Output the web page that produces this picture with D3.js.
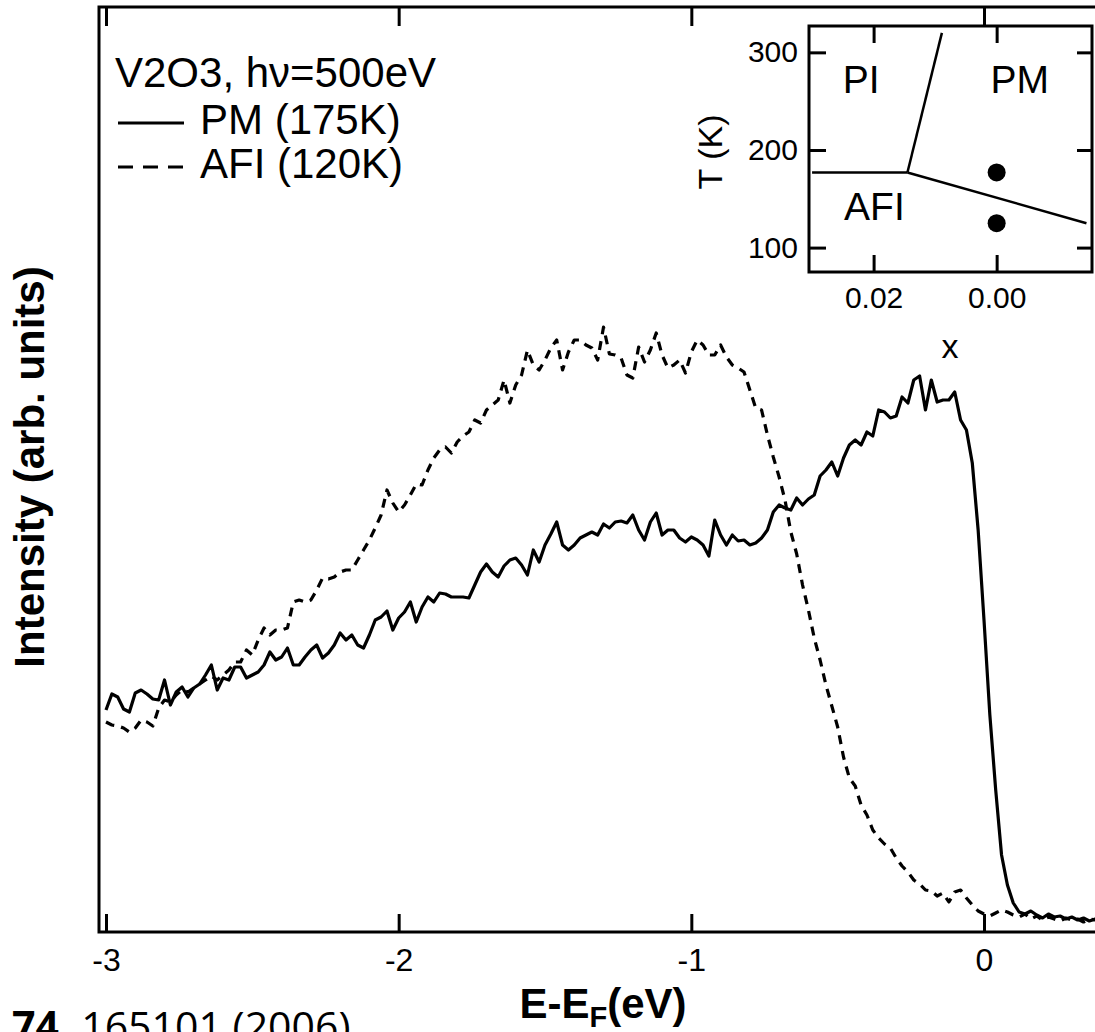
<!DOCTYPE html>
<html>
<head>
<meta charset="utf-8">
<script src="https://cdn.jsdelivr.net/npm/d3@7"></script>
<style>
  body { margin: 0; background: #fff; }
  svg { display: block; font-family: "Liberation Sans", Arial, sans-serif; }
</style>
</head>
<body>
<div id="chart"></div>
<script>
////////////////////////////  Data  ////////////////////////////
// [E - EF (eV), intensity (arb. units)]
const pm = [
  [-3.00,222],[-2.98,238],[-2.96,235],[-2.94,223],[-2.92,220],[-2.90,239],[-2.88,242],[-2.86,238],[-2.84,233],[-2.82,232],
  [-2.80,252],[-2.78,227],[-2.76,240],[-2.74,245],[-2.72,235],[-2.70,244],[-2.68,248],[-2.66,257],[-2.64,267],[-2.62,242],
  [-2.60,254],[-2.58,252],[-2.56,265],[-2.54,265],[-2.52,254],[-2.50,257],[-2.48,260],[-2.46,267],[-2.44,280],[-2.42,272],
  [-2.40,275],[-2.38,284],[-2.36,267],[-2.34,267],[-2.32,275],[-2.30,282],[-2.28,287],[-2.26,274],[-2.24,279],[-2.22,287],
  [-2.20,299],[-2.18,292],[-2.16,297],[-2.14,287],[-2.12,284],[-2.10,297],[-2.08,312],[-2.06,315],[-2.04,321],[-2.02,302],
  [-2.00,314],[-1.98,320],[-1.96,330],[-1.94,310],[-1.92,325],[-1.90,335],[-1.88,330],[-1.86,339],[-1.84,338],[-1.82,335],
  [-1.80,335],[-1.78,335],[-1.76,334],[-1.74,347],[-1.72,360],[-1.70,368],[-1.68,360],[-1.66,355],[-1.64,366],[-1.62,372],
  [-1.60,374],[-1.58,367],[-1.56,357],[-1.54,382],[-1.52,370],[-1.50,387],[-1.48,398],[-1.46,410],[-1.44,387],[-1.42,382],
  [-1.40,387],[-1.38,394],[-1.36,397],[-1.34,400],[-1.32,397],[-1.30,408],[-1.28,404],[-1.26,410],[-1.24,411],[-1.22,409],
  [-1.20,417],[-1.18,402],[-1.16,392],[-1.14,410],[-1.12,419],[-1.10,397],[-1.08,402],[-1.06,402],[-1.04,394],[-1.02,390],
  [-1.00,395],[-0.98,392],[-0.96,387],[-0.94,376],[-0.92,412],[-0.90,397],[-0.88,387],[-0.86,397],[-0.84,391],[-0.82,392],
  [-0.80,387],[-0.78,389],[-0.76,394],[-0.74,402],[-0.72,420],[-0.70,427],[-0.68,424],[-0.66,422],[-0.64,434],[-0.62,427],
  [-0.60,433],[-0.58,437],[-0.56,456],[-0.54,462],[-0.52,470],[-0.50,456],[-0.48,474],[-0.46,487],[-0.44,492],[-0.42,487],
  [-0.40,500],[-0.38,496],[-0.36,522],[-0.34,520],[-0.32,514],[-0.30,516],[-0.28,535],[-0.26,529],[-0.24,552],[-0.22,556],
  [-0.20,522],[-0.18,552],[-0.16,530],[-0.14,532],[-0.12,532],[-0.10,540],[-0.08,512],[-0.06,502],[-0.04,469],[-0.02,402],
  [0.00,312],[0.02,217],[0.04,142],[0.06,77],[0.08,47],[0.10,29],[0.12,20],[0.14,18],[0.16,21],[0.18,17],
  [0.20,14],[0.22,18],[0.24,15],[0.26,16],[0.28,13],[0.30,15],[0.32,12],[0.34,14],[0.36,11],[0.38,13],[0.40,12]
];

const afi = [
  [-3.00,210],[-2.98,207],[-2.96,206],[-2.94,204],[-2.92,200],[-2.90,204],[-2.88,212],[-2.86,210],[-2.84,206],[-2.82,224],
  [-2.80,232],[-2.78,230],[-2.76,237],[-2.74,242],[-2.72,240],[-2.70,244],[-2.68,248],[-2.66,252],[-2.64,256],[-2.62,252],
  [-2.60,257],[-2.58,262],[-2.56,270],[-2.54,270],[-2.52,282],[-2.50,277],[-2.48,292],[-2.46,304],[-2.44,297],[-2.42,302],
  [-2.40,302],[-2.38,304],[-2.36,330],[-2.34,332],[-2.32,330],[-2.30,332],[-2.28,342],[-2.26,354],[-2.24,353],[-2.22,355],
  [-2.20,360],[-2.18,362],[-2.16,362],[-2.14,372],[-2.12,382],[-2.10,392],[-2.08,404],[-2.06,417],[-2.04,442],[-2.02,429],
  [-2.00,420],[-1.98,427],[-1.96,437],[-1.94,448],[-1.92,447],[-1.90,462],[-1.88,474],[-1.86,482],[-1.84,485],[-1.82,479],
  [-1.80,490],[-1.78,496],[-1.76,500],[-1.74,512],[-1.72,509],[-1.70,522],[-1.68,527],[-1.66,532],[-1.64,552],[-1.62,529],
  [-1.60,547],[-1.58,557],[-1.56,582],[-1.54,567],[-1.52,562],[-1.50,572],[-1.48,584],[-1.46,592],[-1.44,562],[-1.42,580],
  [-1.40,592],[-1.38,592],[-1.36,587],[-1.34,584],[-1.32,572],[-1.30,605],[-1.28,578],[-1.26,577],[-1.24,574],[-1.22,557],
  [-1.20,554],[-1.18,585],[-1.16,570],[-1.14,582],[-1.12,599],[-1.10,577],[-1.08,564],[-1.06,567],[-1.04,572],[-1.02,559],
  [-1.00,580],[-0.98,592],[-0.96,587],[-0.94,577],[-0.92,577],[-0.90,587],[-0.88,575],[-0.86,567],[-0.84,564],[-0.82,560],
  [-0.80,542],[-0.78,524],[-0.76,522],[-0.74,497],[-0.72,475],[-0.70,455],[-0.68,432],[-0.66,400],[-0.64,378],[-0.62,347],
  [-0.60,322],[-0.58,294],[-0.56,272],[-0.54,247],[-0.52,226],[-0.50,205],[-0.48,175],[-0.46,154],[-0.44,146],[-0.42,127],
  [-0.40,117],[-0.38,102],[-0.36,94],[-0.34,88],[-0.32,84],[-0.30,74],[-0.28,66],[-0.26,60],[-0.24,52],[-0.22,48],
  [-0.20,42],[-0.18,41],[-0.16,36],[-0.14,39],[-0.12,30],[-0.10,40],[-0.08,42],[-0.06,34],[-0.04,27],[-0.02,21],
  [0.00,18],[0.02,16],[0.04,19],[0.06,22],[0.08,20],[0.10,17],[0.12,15],[0.14,18],[0.16,13],[0.18,16],
  [0.20,12],[0.22,15],[0.24,13],[0.26,11],[0.28,14],[0.30,12],[0.32,13],[0.34,10],[0.36,13],[0.38,12],[0.40,14]
];

const xTicks = [-3, -2, -1, 0];

// inset: phase diagram T vs x
const insetXTicks = [0.02, 0.00];
const insetYTicks = [100, 200, 300];
const phaseLines = [
  [[0.0300, 177], [0.0145, 177]],
  [[0.0145, 177], [0.0089, 320]],
  [[0.0145, 177], [-0.0146, 125]]
];
const measured = [[0.0, 177], [0.0, 125]];
const phaseLabels = [
  { text: "PI", x: 0.0250, T: 258 },
  { text: "PM", x: 0.0010, T: 258 },
  { text: "AFI", x: 0.0248, T: 128 }
];

const legendTitle = "V2O3, h\u03BD=500eV";
const legendItems = [
  { label: "PM (175K)", dash: null },
  { label: "AFI (120K)", dash: "15,10" }
];

////////////////////////////  Init  ////////////////////////////
const W = 1095, H = 1032;
const frame = { left: 99, top: 7, bottom: 932, right: 1120 };

const svg = d3.select("#chart").append("svg")
  .attr("width", W).attr("height", H);

const x = d3.scaleLinear().domain([-3, 0]).range([106, 984]);
const y = d3.scaleLinear().domain([0, 925]).range([frame.bottom, frame.top]);

const line = d3.line()
  .x((d) => x(d[0]))
  .y((d) => y(d[1]));

// curves
svg.append("path").datum(afi)
  .attr("d", line)
  .attr("fill", "none").attr("stroke", "#000")
  .attr("stroke-width", 3.2)
  .attr("stroke-dasharray", "9,7")
  .attr("stroke-linejoin", "round");

svg.append("path").datum(pm)
  .attr("d", line)
  .attr("fill", "none").attr("stroke", "#000")
  .attr("stroke-width", 3.2)
  .attr("stroke-linejoin", "round");

// frame
svg.append("rect")
  .attr("x", frame.left).attr("y", frame.top)
  .attr("width", frame.right - frame.left)
  .attr("height", frame.bottom - frame.top)
  .attr("fill", "none").attr("stroke", "#000").attr("stroke-width", 3);

// axes
const xAxis = svg.append("g")
  .attr("transform", `translate(0,${frame.bottom})`)
  .call(d3.axisBottom(x).tickValues(xTicks).tickSize(-18).tickPadding(16)
    .tickFormat((d) => String(d)));
xAxis.select(".domain").remove();
xAxis.selectAll("line").attr("stroke", "#000").attr("stroke-width", 3);
xAxis.selectAll("text").attr("font-size", 32).attr("fill", "#000")
  .attr("font-family", "Liberation Sans, Arial, sans-serif");

const xTop = svg.append("g")
  .attr("transform", `translate(0,${frame.top})`)
  .call(d3.axisTop(x).tickValues(xTicks).tickSize(-19).tickFormat(""));
xTop.select(".domain").remove();
xTop.selectAll("line").attr("stroke", "#000").attr("stroke-width", 3);

// axis titles
svg.append("text")
  .attr("transform", "translate(44,467) rotate(-90)")
  .attr("text-anchor", "middle")
  .attr("font-size", 42).attr("font-weight", "bold")
  .text("Intensity (arb. units)");

const xt = svg.append("text")
  .attr("x", 603).attr("y", 1018)
  .attr("text-anchor", "middle")
  .attr("font-size", 42).attr("font-weight", "bold");
xt.append("tspan").text("E-E");
xt.append("tspan").attr("font-size", 29).attr("dy", 9).text("F");
xt.append("tspan").attr("dy", -9).text("(eV)");

// legend
svg.append("text")
  .attr("x", 115).attr("y", 87)
  .attr("font-size", 42)
  .text(legendTitle);

legendItems.forEach((d, i) => {
  const yy = 123 + i * 44;
  svg.append("line")
    .attr("x1", 118).attr("x2", 184)
    .attr("y1", yy).attr("y2", yy)
    .attr("stroke", "#000").attr("stroke-width", 3)
    .attr("stroke-dasharray", d.dash);
  svg.append("text")
    .attr("x", 200).attr("y", yy + 11)
    .attr("font-size", 42)
    .text(d.label);
});

////////////////////////////  Inset  ////////////////////////////
const inset = { left: 809, right: 1092, top: 26, bottom: 272 };
const ix = d3.scaleLinear().domain([0.0305, -0.0155]).range([inset.left, inset.right]);
const iy = d3.scaleLinear().domain([75, 327]).range([inset.bottom, inset.top]);

svg.append("rect")
  .attr("x", inset.left).attr("y", inset.top)
  .attr("width", inset.right - inset.left)
  .attr("height", inset.bottom - inset.top)
  .attr("fill", "#fff").attr("stroke", "#000").attr("stroke-width", 3);

const styleAxis = (g) => {
  g.select(".domain").remove();
  g.selectAll("line").attr("stroke", "#000").attr("stroke-width", 3);
  g.selectAll("text").attr("font-size", 30).attr("fill", "#000")
    .attr("font-family", "Liberation Sans, Arial, sans-serif");
};

svg.append("g").attr("transform", `translate(${inset.left},0)`)
  .call(d3.axisLeft(iy).tickValues(insetYTicks).tickSize(-17).tickPadding(11))
  .call(styleAxis);
svg.append("g").attr("transform", `translate(${inset.right},0)`)
  .call(d3.axisRight(iy).tickValues(insetYTicks).tickSize(-15).tickFormat(""))
  .call(styleAxis);
svg.append("g").attr("transform", `translate(0,${inset.bottom})`)
  .call(d3.axisBottom(ix).tickValues(insetXTicks).tickSize(-17).tickPadding(15)
    .tickFormat(d3.format(".2f")))
  .call(styleAxis);
svg.append("g").attr("transform", `translate(0,${inset.top})`)
  .call(d3.axisTop(ix).tickValues(insetXTicks).tickSize(-17).tickFormat(""))
  .call(styleAxis);

const pLine = d3.line().x((d) => ix(d[0])).y((d) => iy(d[1]));
svg.selectAll(".phase").data(phaseLines).enter().append("path")
  .attr("class", "phase")
  .attr("d", pLine)
  .attr("fill", "none").attr("stroke", "#000").attr("stroke-width", 2.5);

svg.selectAll(".pt").data(measured).enter().append("circle")
  .attr("class", "pt")
  .attr("cx", (d) => ix(d[0])).attr("cy", (d) => iy(d[1]))
  .attr("r", 9).attr("fill", "#000");

svg.selectAll(".plab").data(phaseLabels).enter().append("text")
  .attr("class", "plab")
  .attr("x", (d) => ix(d.x)).attr("y", (d) => iy(d.T))
  .attr("font-size", 39)
  .text((d) => d.text);

svg.append("text")
  .attr("transform", `translate(722,152) rotate(-90)`)
  .attr("text-anchor", "middle")
  .attr("font-size", 34)
  .text("T (K)");

svg.append("text")
  .attr("x", 950).attr("y", 358)
  .attr("text-anchor", "middle")
  .attr("font-size", 34)
  .text("x");

// citation fragment at the bottom
const cite = svg.append("text")
  .attr("x", 12).attr("y", 1041)
  .attr("font-size", 41)
  .attr("font-family", "Open Sans, sans-serif");
cite.append("tspan").attr("font-weight", "bold").text("74,");
cite.append("tspan").text(" 165101 (2006)");
</script>
</body>
</html>
